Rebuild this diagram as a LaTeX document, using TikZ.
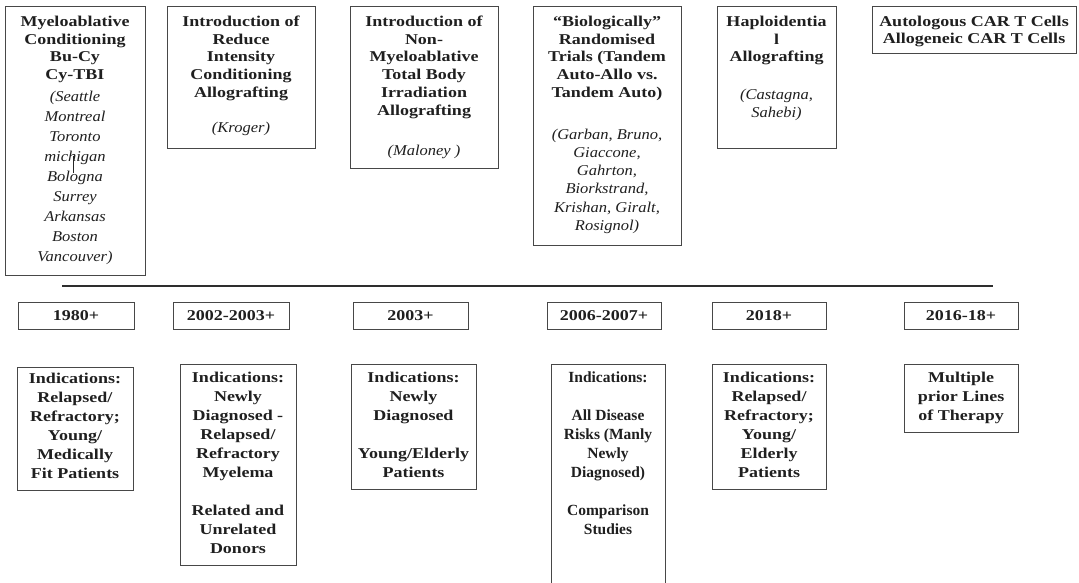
\documentclass[tikz,border=0pt]{standalone}
\usepackage{fontspec}
\setmainfont{Liberation Serif}[BoldFeatures={FakeStretch=1.2},ItalicFeatures={FakeStretch=1.1}]
\newfontfamily\tnrfont{Liberation Serif}
\newcommand\firstln{\rule{0pt}{11pt}}
\newcommand\iq{\mdseries\itshape}
\begin{document}
\begin{tikzpicture}[x=1pt,y=-1pt,
  box/.style={draw=black!72, line width=0.9pt, inner sep=0pt, anchor=north west},
  ttop/.style={align=center, inner sep=0pt, anchor=north, text=black!88, font=\fontsize{15}{17.8}\selectfont\bfseries},
  tbot/.style={align=center, inner sep=0pt, anchor=north, text=black!88, font=\fontsize{15}{19}\selectfont\bfseries},
  ttnr/.style={align=center, inner sep=0pt, anchor=north, text=black!88, font=\tnrfont\fontsize{15.5}{19}\selectfont\bfseries},
  yr/.style={draw=black!72, line width=0.9pt, inner sep=0pt, minimum height=27pt, text height=10pt, text depth=0pt, text=black!88, font=\fontsize{15}{17}\selectfont\bfseries}]
\clip (0,0) rectangle (1079,583);
% top boxes
\node[box, minimum width=140pt, minimum height=269pt] (b1) at (5,6) {};
\node[box, minimum width=148pt, minimum height=142pt] (b2) at (167,6) {};
\node[box, minimum width=148pt, minimum height=162pt] (b3) at (350,6) {};
\node[box, minimum width=148pt, minimum height=239pt] (b4) at (533,6) {};
\node[box, minimum width=119pt, minimum height=142pt] (b5) at (717,6) {};
\node[box, minimum width=204pt, minimum height=47pt] (b6) at (872,6) {};
\node[ttop] (t1) at (75,15) {\firstln Myeloablative\\ Conditioning\\ Bu-Cy\\ Cy-TBI\\[3.9pt]
  \iq (Seattle\\[2.2pt] \iq Montreal\\[2.2pt] \iq Toronto\\[2.2pt] \iq michigan\\[2.2pt] \iq Bologna\\[2.2pt] \iq Surrey\\[2.2pt] \iq Arkansas\\[2.2pt] \iq Boston\\[2.2pt] \iq Vancouver)};
\node[ttop] (t2) at (241,15) {\firstln Introduction of\\ Reduce\\ Intensity\\ Conditioning\\ Allografting\\[17pt] \iq (Kroger)};
\node[ttop] (t3) at (424,15) {\firstln Introduction of\\ Non-\\ Myeloablative\\ Total Body\\ Irradiation\\ Allografting\\[22.2pt] \iq (Maloney )};
\node[ttop] (t4) at (607,15) {\firstln “Biologically”\\ Randomised\\ Trials (Tandem\\ Auto-Allo vs.\\ Tandem Auto)\\[24pt]
  \iq (Garban, Bruno,\\[0.4pt] \iq Giaccone,\\[0.4pt] \iq Gahrton,\\[0.4pt] \iq Biorkstrand,\\[0.4pt] \iq Krishan, Giralt,\\[0.4pt] \iq Rosignol)};
\node[ttop] (t5) at (776.5,15) {\firstln Haploidentia\\ l\\ Allografting\\[19.6pt] \iq (Castagna,\\[0.2pt] \iq Sahebi)};
\node[ttop] (t6) at (974,15) {\firstln Autologous CAR T Cells\\ Allogeneic CAR T Cells};
% stray mark
\coordinate (s1) at (73,156); \coordinate (s2) at (73,173);
\draw[line width=0.6pt, black!85] (s1) -- (s2);
% timeline
\coordinate (l1) at (62,286); \coordinate (l2) at (993,286);
\draw[line width=2.6pt, black!82] (l1) -- (l2);
% year boxes
\node[yr, minimum width=116pt] (y1) at (76,315.5) {1980+};
\node[yr, minimum width=116pt] (y2) at (231,315.5) {2002-2003+};
\node[yr, minimum width=115pt] (y3) at (410.5,315.5) {2003+};
\node[yr, minimum width=114pt] (y4) at (604,315.5) {2006-2007+};
\node[yr, minimum width=114pt] (y5) at (769,315.5) {2018+};
\node[yr, minimum width=114pt] (y6) at (961,315.5) {2016-18+};
% indication boxes
\node[box, minimum width=116pt, minimum height=123pt] (i1) at (17,367) {};
\node[box, minimum width=116pt, minimum height=201pt] (i2) at (180,364) {};
\node[box, minimum width=125pt, minimum height=125pt] (i3) at (351,364) {};
\node[box, minimum width=114pt, minimum height=260pt] (i4) at (551,364) {};
\node[box, minimum width=114pt, minimum height=125pt] (i5) at (712,364) {};
\node[box, minimum width=114pt, minimum height=68pt] (i6) at (904,364) {};
\node[tbot] (u1) at (75,372) {\firstln Indications:\\ Relapsed/\\ Refractory;\\ Young/\\ Medically\\ Fit Patients};
\node[tbot] (u2) at (238,371) {\firstln Indications:\\ Newly\\ Diagnosed -\\ Relapsed/\\ Refractory\\ Myelema\\[19pt] Related and\\ Unrelated\\ Donors};
\node[tbot] (u3) at (413.5,371) {\firstln Indications:\\ Newly\\ Diagnosed\\[19pt] Young/Elderly\\ Patients};
\node[ttnr] (u4) at (608,371) {\firstln Indications:\\[19pt] All Disease\\ Risks (Manly\\ Newly\\ Diagnosed)\\[19pt] Comparison\\ Studies};
\node[tbot] (u5) at (769,371) {\firstln Indications:\\ Relapsed/\\ Refractory;\\ Young/\\ Elderly\\ Patients};
\node[tbot] (u6) at (961,371) {\firstln Multiple\\ prior Lines\\ of Therapy};
\end{tikzpicture}
\end{document}
